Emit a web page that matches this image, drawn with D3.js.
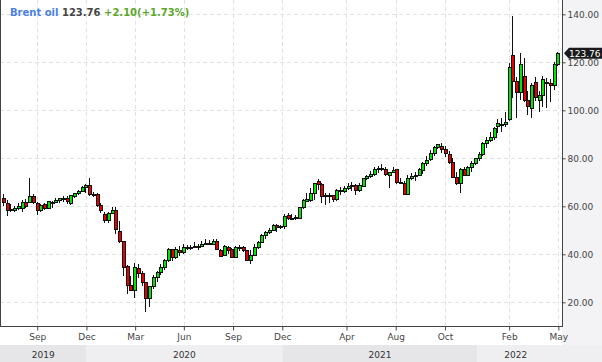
<!DOCTYPE html>
<html><head><meta charset="utf-8">
<script src="https://cdn.jsdelivr.net/npm/d3@7"></script>
<style>
body{margin:0;background:#fff}
svg{display:block;font-family:"DejaVu Sans",sans-serif}
</style>
</head><body>
<svg id="chart" width="602" height="362"></svg>
<script>
// ---------- data (weekly candles, Brent oil) ----------
const firstWeek = "2019-07-29";
const opens = [63.3,61.5,58.6,58.6,59.1,59.5,61.8,61.9,64.5,61.5,58.4,60.8,59.4,62.0,61.8,62.6,63.3,63.3,61.2,64.4,
65.4,66.5,67.9,68.9,65.3,65.2,60.5,56.6,54.5,57.1,58.5,49.7,45.5,35.1,27.2,25.1,34.4,32.3,28.3,21.9,
26.8,30.7,32.8,34.8,37.6,42.1,38.7,41.8,41.1,42.9,43.2,43.1,43.4,43.3,44.6,44.9,44.3,45.7,41.8,39.7,
42.9,42.1,39.0,43.0,43.2,41.8,37.6,39.7,42.9,45.3,48.0,49.1,50.1,52.2,51.5,51.6,56.3,55.0,55.2,55.3,
59.6,62.4,62.8,65.4,70.7,69.2,64.5,64.6,64.7,62.9,66.7,66.3,67.6,68.3,68.9,66.6,68.6,71.6,72.6,73.5,
75.4,76.1,75.5,73.1,74.2,75.4,70.2,69.8,65.1,72.0,72.8,73.0,75.1,77.9,79.6,82.3,84.8,85.3,83.7,81.8,
78.6,72.4,69.9,75.4,73.0,76.2,77.9,80.0,81.8,86.2,87.6,89.0,93.5,94.5,94.3,96.2,123.0,112.4,107.8,114.3,
104.3,100.8,111.9,104.3,106.4,111.9,111.2,110.4,119.2];
const highs = [65.2,62.5,61.0,60.2,61.2,62.8,63.0,71.6,65.2,62.0,61.0,61.2,62.3,62.4,63.5,63.5,64.3,64.5,64.6,65.5,
66.8,68.4,69.5,71.7,65.8,65.6,61.5,57.5,57.6,59.8,59.6,53.9,45.7,35.5,30.8,36.3,36.0,33.0,28.5,27.0,
31.5,33.0,36.0,38.0,42.5,42.4,43.0,43.6,44.3,43.9,43.9,45.0,44.2,45.5,46.3,45.9,46.5,46.5,42.1,43.8,
43.3,42.6,43.4,43.9,43.6,42.0,41.8,44.2,45.5,48.5,49.9,51.1,52.5,52.5,52.1,56.8,57.4,56.6,56.5,59.8,
63.0,65.5,67.7,69.8,71.4,69.8,65.5,65.6,64.9,67.3,68.0,68.5,69.8,70.0,69.3,69.8,72.0,73.2,74.9,76.2,
76.6,77.8,76.2,74.4,76.4,75.6,71.8,70.4,72.9,73.7,74.2,76.0,78.3,80.8,83.5,85.1,86.1,86.5,85.0,83.0,
80.0,74.5,76.0,76.5,76.8,79.0,80.2,82.8,86.7,89.0,91.0,93.2,96.2,97.0,99.5,119.8,139.3,114.0,124.0,122.0,
108.0,111.5,114.0,108.0,114.5,113.5,113.0,120.0,124.5];
const lows = [60.0,55.9,57.5,57.6,58.3,57.8,59.2,61.5,61.0,56.2,57.5,58.6,58.8,59.3,61.2,61.4,61.6,60.8,60.6,63.3,
64.6,66.0,65.7,64.3,63.8,59.9,57.2,53.1,53.2,56.8,48.4,44.8,31.0,23.4,24.6,21.6,30.0,26.9,16.0,18.2,
25.5,28.5,31.5,33.5,36.8,37.3,38.2,39.5,40.0,42.0,41.9,42.6,42.0,43.0,44.2,43.9,44.1,41.8,39.0,39.3,
40.2,38.5,38.7,41.5,41.0,37.3,35.8,39.5,42.4,45.0,46.5,48.3,49.8,49.2,50.4,50.4,54.5,54.2,54.2,55.0,
59.0,61.7,61.9,62.7,67.0,61.2,60.5,61.5,61.7,62.4,64.6,65.5,66.8,66.4,64.6,65.8,67.9,71.0,71.7,72.7,
74.0,74.6,72.7,67.5,73.7,69.5,69.3,64.6,65.0,70.9,70.5,72.5,73.3,77.0,79.0,81.0,83.8,82.3,80.5,77.8,
71.8,68.8,65.7,72.5,72.6,74.5,77.2,78.8,81.1,84.5,87.0,87.8,90.5,91.0,92.9,95.5,105.0,97.0,104.5,103.5,
98.0,97.0,104.0,99.4,101.5,100.8,103.6,108.5,118.5];
const closes = [61.6,58.5,58.7,59.2,60.0,61.7,60.0,64.5,61.8,58.5,60.4,59.4,62.1,61.8,62.6,63.3,63.4,62.3,64.6,65.4,
66.5,67.9,68.9,65.2,65.0,60.5,58.4,54.4,57.1,58.3,50.4,45.5,34.6,27.2,25.1,34.8,32.3,28.3,21.9,26.8,
30.7,32.8,34.8,37.6,42.1,38.7,42.1,41.1,42.9,43.2,43.1,43.4,43.5,44.5,44.8,44.3,45.4,42.3,39.3,43.4,
41.8,38.8,43.1,43.1,41.8,37.8,39.7,42.9,45.2,48.0,49.1,50.2,52.2,51.4,51.8,55.8,55.0,55.1,55.5,59.6,
62.6,62.9,65.6,69.6,69.2,64.5,64.6,64.8,62.9,66.8,66.4,67.6,68.3,68.7,66.6,68.8,71.6,72.6,73.6,75.4,
76.1,75.5,73.3,74.2,75.2,70.3,70.0,65.1,71.6,72.8,73.0,75.4,77.9,79.3,82.3,84.8,85.8,83.7,82.4,78.6,
72.4,69.9,75.4,73.0,76.2,77.9,80.0,81.8,86.2,87.6,89.0,92.5,94.8,93.9,95.3,118.2,112.4,107.8,119.3,104.3,
101.9,110.5,105.4,106.4,112.9,111.2,110.4,119.2,123.76];

const yTicks = [20,40,60,80,100,120,140];
const monthTickDates = ["2019-10-01","2020-01-01","2020-04-01","2020-07-01","2020-10-01","2021-01-01",
  "2021-05-01","2021-08-01","2021-11-01","2022-03-01","2022-06-01"];
const monthTickLabels = ["Sep","Dec","Mar","Jun","Sep","Dec","Apr","Aug","Oct","Feb","May"];
const yearBounds = ["2019-07-22","2020-01-01","2021-01-01","2022-01-01","2022-06-10"];
const yearLabels = ["2019","2020","2021","2022"];
const titleName = "Brent oil", titleLast = "123.76", titleChange = "+2.10(+1.73%)";
const lastPrice = 123.76;

// ---------- build ----------
const parse = d3.utcParse("%Y-%m-%d");
const w0 = parse(firstWeek);
const candles = opens.map((o,i)=>({date:d3.utcDay.offset(w0, 7*i), o, h:highs[i], l:lows[i], c:closes[i]}));

const W = 602, H = 362, plotR = 562, plotB = 326;
const svg = d3.select("#chart");

const x = d3.scaleUtc().domain([candles[0].date, candles[candles.length-1].date]).range([3, 557.3]);
const y = d3.scaleLinear().domain([20,140]).range([302.3,14.3]);

// backgrounds
svg.append("rect").attr("x",0).attr("y",0).attr("width",W).attr("height",H).attr("fill","#fff");
svg.append("rect").attr("x",plotR).attr("y",0).attr("width",W-plotR).attr("height",H).attr("fill","#f3f3f5");

// year bands
const yb = yearBounds.map(parse);
const bandG = svg.append("g");
yearLabels.forEach((lab,i)=>{
  const x0 = Math.max(0, x(yb[i])), x1 = Math.min(W, i===yearLabels.length-1 ? W : x(yb[i+1]));
  bandG.append("rect").attr("x",x0).attr("y",345).attr("width",x1-x0).attr("height",H-345)
    .attr("fill", i%2===0 ? "#e6e6e8" : "#efeff1");
  const cx = i===yearLabels.length-1 ? (x0+ plotR - 8)/2 : (x0+x1)/2;
  bandG.append("text").attr("x",cx).attr("y",357.5).attr("text-anchor","middle")
    .attr("font-size",9).attr("fill","#333").text(lab);
});

// grid
const grid = svg.append("g").attr("stroke","#e2e2e2").attr("stroke-dasharray","4,3").attr("shape-rendering","crispEdges");
yTicks.forEach(t=>{
  grid.append("line").attr("x1",0).attr("x2",plotR).attr("y1",Math.round(y(t))+0.5).attr("y2",Math.round(y(t))+0.5);
});
const mDates = monthTickDates.map(parse);
mDates.forEach(d=>{
  const xx = Math.round(x(d))+0.5;
  grid.append("line").attr("x1",xx).attr("x2",xx).attr("y1",0).attr("y2",plotB);
});

// candles
const cg = svg.append("g").attr("shape-rendering","crispEdges");
candles.forEach(d=>{
  const cx = Math.round(x(d.date));
  cg.append("line").attr("x1",cx+0.5).attr("x2",cx+0.5).attr("y1",y(d.h)).attr("y2",y(d.l))
    .attr("stroke","#111").attr("stroke-width",1);
  const top = Math.round(y(Math.max(d.o,d.c))), bot = Math.round(y(Math.min(d.o,d.c)));
  const up = d.c >= d.o;
  if (bot - top < 2) {
    cg.append("rect").attr("x",cx-1).attr("y",top).attr("width",4).attr("height",Math.max(2,bot-top+1)).attr("fill","#111");
  } else {
    cg.append("rect").attr("x",cx-0.5).attr("y",top+0.5).attr("width",3).attr("height",bot-top)
      .attr("fill", up ? "#00e600" : "#e60000").attr("stroke","#111").attr("stroke-width",1);
  }
});

// axes lines
const ax = svg.append("g").attr("shape-rendering","crispEdges").attr("stroke","#444");
ax.append("line").attr("x1",0.5).attr("x2",0.5).attr("y1",0).attr("y2",plotB);
ax.append("line").attr("x1",plotR+0.5).attr("x2",plotR+0.5).attr("y1",0).attr("y2",plotB+0.5);
ax.append("line").attr("x1",0).attr("x2",plotR+1).attr("y1",plotB+0.5).attr("y2",plotB+0.5);

// y axis
const yAxis = d3.axisRight(y).tickValues(yTicks).tickSize(3).tickPadding(2).tickFormat(d3.format(".2f"));
const ya = svg.append("g").attr("transform",`translate(${plotR+0.5},0)`).call(yAxis);
ya.select(".domain").remove();
ya.selectAll("text").attr("font-family","DejaVu Sans").attr("font-size",9).attr("fill","#444");
ya.selectAll("line").attr("stroke","#444");

// x axis
const xAxis = d3.axisBottom(x).tickValues(mDates).tickSize(4).tickPadding(3)
  .tickFormat((d,i)=>monthTickLabels[i]);
const xa = svg.append("g").attr("transform",`translate(0,${plotB+0.5})`).call(xAxis);
xa.select(".domain").remove();
xa.selectAll("text").attr("font-family","DejaVu Sans").attr("font-size",9).attr("fill","#444");
xa.selectAll("line").attr("stroke","#444");

// last price tag
const ty = y(lastPrice);
svg.append("path").attr("d",`M${plotR+2},${ty} L${plotR+7},${ty-5.5} L${W},${ty-5.5} L${W},${ty+5.5} L${plotR+7},${ty+5.5} Z`)
  .attr("fill","#1a1a1a");
svg.append("text").attr("x",plotR+7).attr("y",ty+3.3).attr("font-size",9).attr("fill","#fff").text(d3.format(".2f")(lastPrice));

// title
const t = svg.append("text").attr("x",10).attr("y",15.5).attr("font-size",10).attr("font-weight","bold");
t.append("tspan").attr("fill","#4a7fe6").text(titleName);
t.append("tspan").attr("fill","#444").text(" " + titleLast);
t.append("tspan").attr("fill","#5ba829").text(" " + titleChange);
</script>
</body></html>
